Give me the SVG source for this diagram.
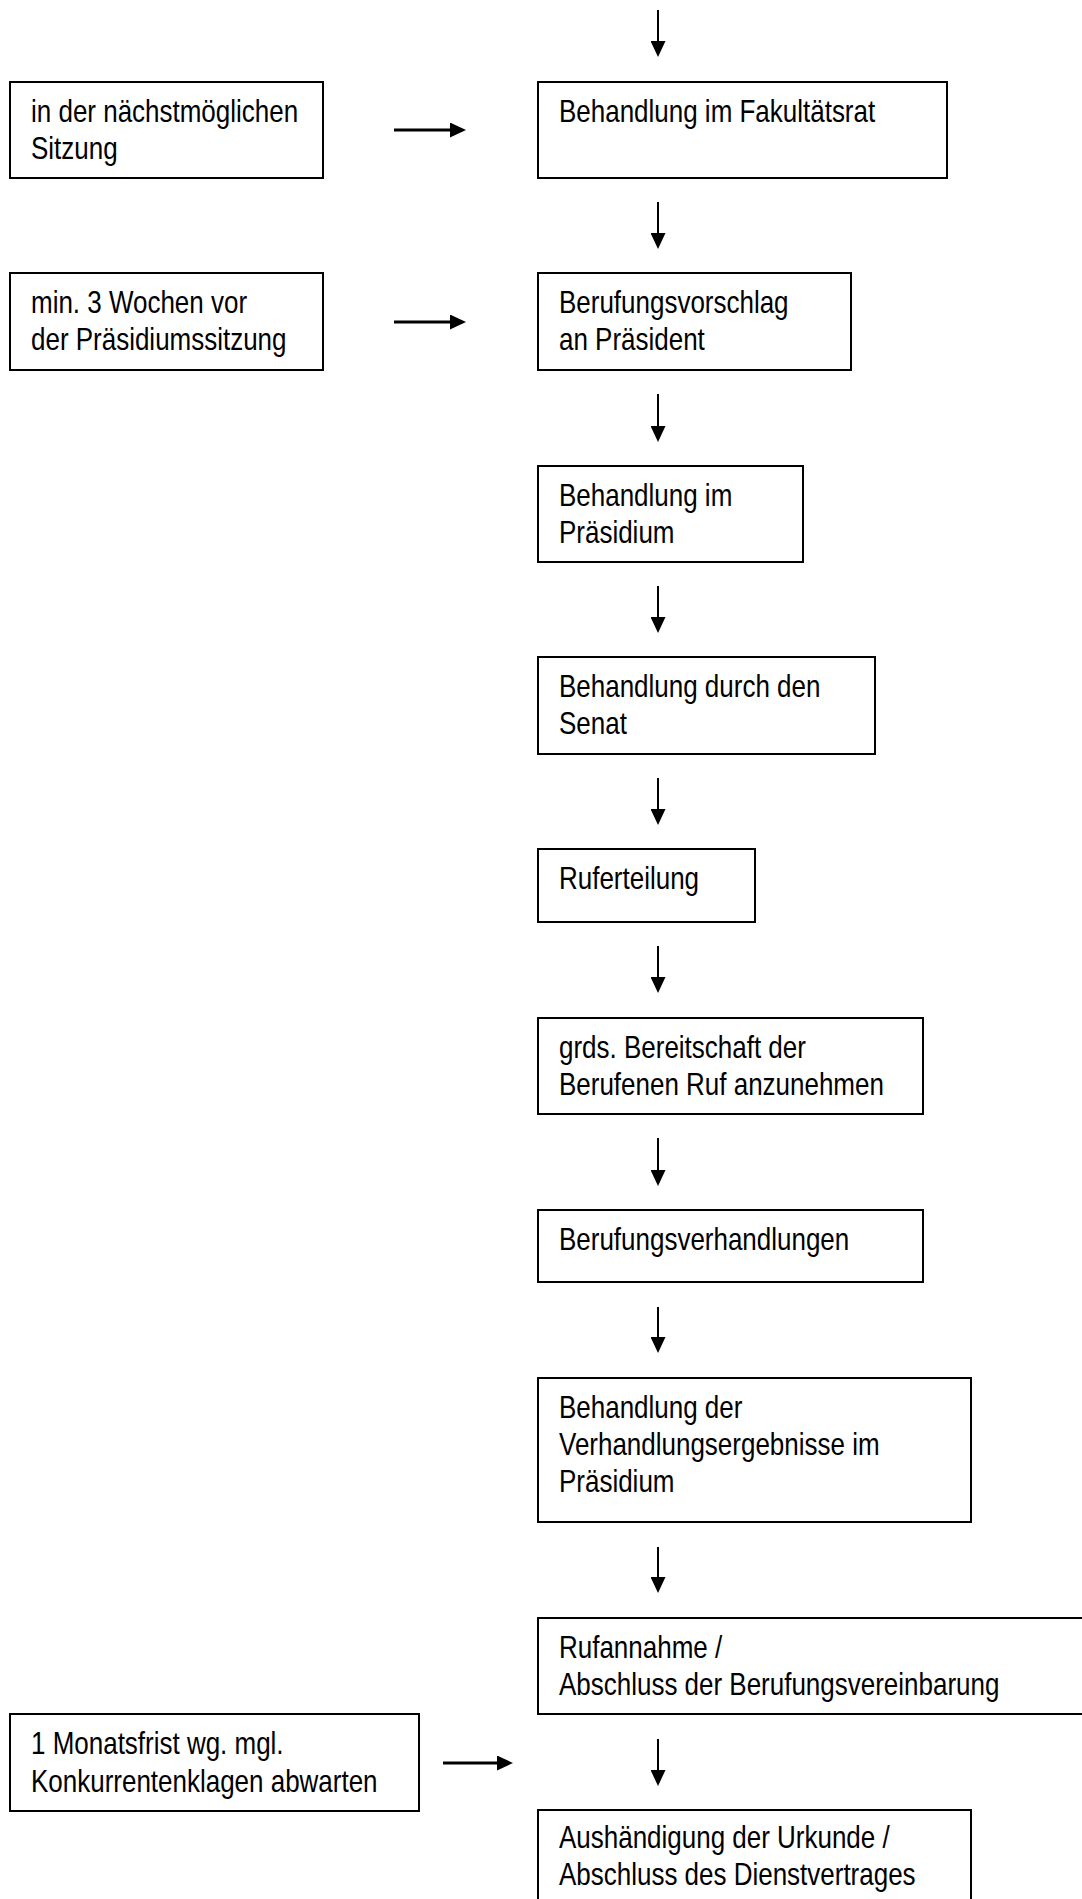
<svg xmlns="http://www.w3.org/2000/svg" width="1082" height="1899" viewBox="0 0 1082 1899">
<style>
.box{fill:#fff;stroke:#000;stroke-width:2}
.t{font-family:"Liberation Sans",Arial,sans-serif;font-size:31.5px;fill:#000}
.v{stroke:#000;stroke-width:2;fill:none}
.h{stroke:#000;stroke-width:3;fill:none}
</style>
<defs>
<marker id="ah" viewBox="0 0 16 15" refX="6" refY="7.5" markerWidth="16" markerHeight="15" markerUnits="userSpaceOnUse" orient="auto">
<path d="M0,0 L16,7.5 L0,15 Z" fill="#000"/>
</marker>
</defs>
<rect width="1082" height="1899" fill="#fff"/>
<g id="connectors">
<line class="v" x1="658" y1="10" x2="658" y2="47" marker-end="url(#ah)"/>
<line class="v" x1="658" y1="202" x2="658" y2="239" marker-end="url(#ah)"/>
<line class="v" x1="658" y1="394" x2="658" y2="432" marker-end="url(#ah)"/>
<line class="v" x1="658" y1="586" x2="658" y2="623" marker-end="url(#ah)"/>
<line class="v" x1="658" y1="778" x2="658" y2="815" marker-end="url(#ah)"/>
<line class="v" x1="658" y1="946" x2="658" y2="983" marker-end="url(#ah)"/>
<line class="v" x1="658" y1="1138" x2="658" y2="1176" marker-end="url(#ah)"/>
<line class="v" x1="658" y1="1307" x2="658" y2="1343" marker-end="url(#ah)"/>
<line class="v" x1="658" y1="1547" x2="658" y2="1583" marker-end="url(#ah)"/>
<line class="v" x1="658" y1="1739" x2="658" y2="1776" marker-end="url(#ah)"/>
<line class="h" x1="394" y1="130" x2="456" y2="130" marker-end="url(#ah)"/>
<line class="h" x1="394" y1="322" x2="456" y2="322" marker-end="url(#ah)"/>
<line class="h" x1="443" y1="1763" x2="503" y2="1763" marker-end="url(#ah)"/>
</g>
<g id="n-sitzung">
<rect class="box" x="10" y="82" width="313" height="96"/>
<g transform="translate(31 0) scale(0.825 1)">
<text class="t" x="0" y="122.5">in der nächstmöglichen</text>
<text class="t" x="0" y="159">Sitzung</text>
</g>
</g>
<g id="n-fakultaetsrat">
<rect class="box" x="538" y="82" width="409" height="96"/>
<g transform="translate(559 0) scale(0.825 1)">
<text class="t" x="0" y="122.5">Behandlung im Fakultätsrat</text>
</g>
</g>
<g id="n-wochen">
<rect class="box" x="10" y="273" width="313" height="97"/>
<g transform="translate(31 0) scale(0.825 1)">
<text class="t" x="0" y="313.5">min. 3 Wochen vor</text>
<text class="t" x="0" y="350.5">der Präsidiumssitzung</text>
</g>
</g>
<g id="n-vorschlag">
<rect class="box" x="538" y="273" width="313" height="97"/>
<g transform="translate(559 0) scale(0.825 1)">
<text class="t" x="0" y="313.5">Berufungsvorschlag</text>
<text class="t" x="0" y="350.5">an Präsident</text>
</g>
</g>
<g id="n-praesidium">
<rect class="box" x="538" y="466" width="265" height="96"/>
<g transform="translate(559 0) scale(0.825 1)">
<text class="t" x="0" y="506">Behandlung im</text>
<text class="t" x="0" y="543">Präsidium</text>
</g>
</g>
<g id="n-senat">
<rect class="box" x="538" y="657" width="337" height="97"/>
<g transform="translate(559 0) scale(0.825 1)">
<text class="t" x="0" y="697.5">Behandlung durch den</text>
<text class="t" x="0" y="734.5">Senat</text>
</g>
</g>
<g id="n-ruferteilung">
<rect class="box" x="538" y="849" width="217" height="73"/>
<g transform="translate(559 0) scale(0.825 1)">
<text class="t" x="0" y="889.5">Ruferteilung</text>
</g>
</g>
<g id="n-bereitschaft">
<rect class="box" x="538" y="1018" width="385" height="96"/>
<g transform="translate(559 0) scale(0.825 1)">
<text class="t" x="0" y="1058">grds. Bereitschaft der</text>
<text class="t" x="0" y="1095">Berufenen Ruf anzunehmen</text>
</g>
</g>
<g id="n-verhandlungen">
<rect class="box" x="538" y="1210" width="385" height="72"/>
<g transform="translate(559 0) scale(0.825 1)">
<text class="t" x="0" y="1250.5">Berufungsverhandlungen</text>
</g>
</g>
<g id="n-ergebnisse">
<rect class="box" x="538" y="1378" width="433" height="144"/>
<g transform="translate(559 0) scale(0.825 1)">
<text class="t" x="0" y="1418">Behandlung der</text>
<text class="t" x="0" y="1455">Verhandlungsergebnisse im</text>
<text class="t" x="0" y="1492">Präsidium</text>
</g>
</g>
<g id="n-rufannahme">
<rect class="box" x="538" y="1618" width="560" height="96"/>
<g transform="translate(559 0) scale(0.825 1)">
<text class="t" x="0" y="1658">Rufannahme /</text>
<text class="t" x="0" y="1695.5">Abschluss der Berufungsvereinbarung</text>
</g>
</g>
<g id="n-monatsfrist">
<rect class="box" x="10" y="1714" width="409" height="97"/>
<g transform="translate(31 0) scale(0.825 1)">
<text class="t" x="0" y="1754">1 Monatsfrist wg. mgl.</text>
<text class="t" x="0" y="1792">Konkurrentenklagen abwarten</text>
</g>
</g>
<g id="n-urkunde">
<rect class="box" x="538" y="1810" width="433" height="120"/>
<g transform="translate(559 0) scale(0.825 1)">
<text class="t" x="0" y="1848">Aushändigung der Urkunde /</text>
<text class="t" x="0" y="1885">Abschluss des Dienstvertrages</text>
</g>
</g>
</svg>
